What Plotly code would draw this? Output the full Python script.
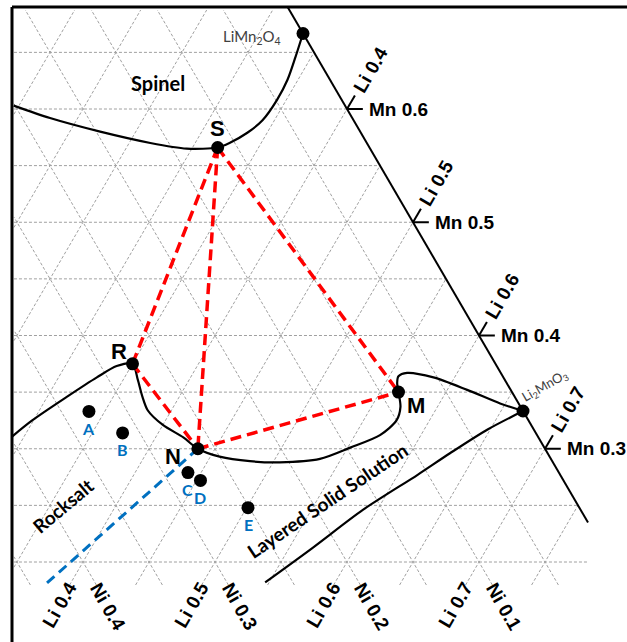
import numpy as np
import plotly.graph_objects as go

# ---------------- data (cation fractions; Ni = 1 - Li - Mn) ----------------
key_names = ["S", "R", "N", "M"]
key_li = [0.319, 0.350, 0.437, 0.564]
key_mn = [0.566, 0.375, 0.300, 0.350]

sample_names = ["A", "B", "C", "D", "E"]
sample_li = [0.338, 0.373, 0.440, 0.453, 0.501]
sample_mn = [0.333, 0.314, 0.279, 0.272, 0.248]

end_names = ["LiMn<sub>2</sub>O<sub>4</sub>", "Li<sub>2</sub>MnO<sub>3</sub>"]
end_li = [1 / 3, 2 / 3]
end_mn = [2 / 3, 1 / 3]

# spinel phase boundary
spinel_li = [0.146, 0.179, 0.223, 0.266, 0.296, 0.319, 0.326, 0.335, 0.341, 0.343, 0.342, 0.338, 0.3333]
spinel_mn = [0.603, 0.592, 0.580, 0.570, 0.565, 0.566, 0.570, 0.579, 0.590, 0.608, 0.626, 0.646, 0.6667]

# rocksalt / layered boundary through R, N, M to Li2MnO3
bound_li = [0.291, 0.299, 0.315, 0.329, 0.339, 0.350, 0.361, 0.372, 0.382, 0.400, 0.421, 0.437,
            0.457, 0.482, 0.505, 0.534, 0.552, 0.569, 0.575, 0.572, 0.564, 0.559, 0.557, 0.562,
            0.584, 0.615, 0.646, 0.6667]
bound_mn = [0.311, 0.325, 0.346, 0.363, 0.373, 0.375, 0.361, 0.346, 0.334, 0.321, 0.310, 0.300,
            0.293, 0.289, 0.288, 0.291, 0.301, 0.312, 0.325, 0.337, 0.350, 0.358, 0.364, 0.367,
            0.363, 0.352, 0.340, 0.3333]

# lower boundary of layered solid solution
layer_li = [0.6667, 0.648, 0.630, 0.615, 0.589, 0.568, 0.547]
layer_mn = [0.3333, 0.317, 0.296, 0.277, 0.246, 0.213, 0.182]

# tie lines (pairs of key points)
tie_pairs = [("S", "R"), ("S", "N"), ("S", "M"), ("R", "N"), ("N", "M")]

# blue dashed line from N
blue_li = [0.437, 0.382]
blue_mn = [0.300, 0.1815]

edge_ticks_li = [0.4, 0.5, 0.6, 0.7]
bottom_ticks_li = [0.4, 0.5, 0.6, 0.7]
bottom_mn = 0.2
grid_step = 0.05

# ---------------- projection ----------------
H = np.sqrt(3) / 2


def xy(li, mn):
    li = np.asarray(li, dtype=float)
    mn = np.asarray(mn, dtype=float)
    return li + mn / 2, mn * H


fig = go.Figure()

# grid
XL, XH = 0.4477, 0.8826
MNL, MNH = 0.1797, 0.6874
gx, gy = [], []


def add_seg(l1, m1, l2, m2):
    x, y = xy([l1, l2], [m1, m2])
    gx.extend([x[0], x[1], None])
    gy.extend([y[0], y[1], None])


vals = np.round(np.arange(0, 1.0001, grid_step), 2)
for v in vals:
    # constant Li
    lo = max(MNL, 2 * (XL - v))
    hi = min(MNH, 2 * (XH - v), 1 - v)
    if hi > lo:
        add_seg(v, lo, v, hi)
    # constant Ni
    if v > 0:
        lo = max(MNL, 2 * (1 - v - XH))
        hi = min(MNH, 2 * (1 - v - XL), 1 - v)
        if hi > lo:
            add_seg(1 - v - lo, lo, 1 - v - hi, hi)
    # constant Mn
    if MNL <= v <= MNH:
        xr = min(XH, 1 - v / 2)
        add_seg(XL - v / 2, v, xr - v / 2, v)

fig.add_trace(go.Scatter(x=gx, y=gy, mode="lines", hoverinfo="skip",
                         line=dict(color="#a0a0a0", width=1, dash="3px,2px")))

# Ni = 0 edge
edge_li = [0.31, 0.7652]
ex, ey = xy(edge_li, [1 - v for v in edge_li])
fig.add_trace(go.Scatter(x=ex, y=ey, mode="lines", line=dict(color="black", width=2), hoverinfo="skip"))

# edge ticks
tx, ty = [], []
for li in edge_ticks_li:
    mn = 1 - li
    a = xy([li, li + 0.012], [mn, mn])
    b = xy([li, li], [mn, mn + 0.012])
    tx += list(a[0]) + [None] + list(b[0]) + [None]
    ty += list(a[1]) + [None] + list(b[1]) + [None]
fig.add_trace(go.Scatter(x=tx, y=ty, mode="lines", line=dict(color="black", width=2), hoverinfo="skip"))

# phase boundaries
for li, mn in [(spinel_li, spinel_mn), (bound_li, bound_mn), (layer_li, layer_mn)]:
    x, y = xy(li, mn)
    fig.add_trace(go.Scatter(x=x, y=y, mode="lines",
                             line=dict(color="black", width=2.2, shape="spline", smoothing=0.8),
                             hoverinfo="skip"))

# tie lines
kp = {n: (l, m) for n, l, m in zip(key_names, key_li, key_mn)}
rx, ry = [], []
for a, b in tie_pairs:
    x, y = xy([kp[a][0], kp[b][0]], [kp[a][1], kp[b][1]])
    rx += list(x) + [None]
    ry += list(y) + [None]
fig.add_trace(go.Scatter(x=rx, y=ry, mode="lines", line=dict(color="#ff0000", width=3.5, dash="11px,6px"),
                         hoverinfo="skip"))

bx, by = xy(blue_li, blue_mn)
fig.add_trace(go.Scatter(x=bx, y=by, mode="lines", line=dict(color="#0070c0", width=3, dash="10px,6px"),
                         hoverinfo="skip"))

# markers
for li, mn in [(key_li, key_mn), (sample_li, sample_mn), (end_li, end_mn)]:
    x, y = xy(li, mn)
    fig.add_trace(go.Scatter(x=x, y=y, mode="markers", marker=dict(color="black", size=13), hoverinfo="skip"))

ann = []
NUMF = dict(family="Liberation Sans, Arial", size=19, color="black")
for li in edge_ticks_li:
    mn = 1 - li
    x, y = xy(li, mn)
    ann.append(dict(x=float(x), y=float(y), text=f"<b>Li {li:.1f}</b>", textangle=-60, xshift=23, yshift=39,
                    showarrow=False, font=NUMF))
    ann.append(dict(x=float(x), y=float(y), text=f"<b>Mn {mn:.1f}</b>", xanchor="left", xshift=20, yshift=0,
                    showarrow=False, font=NUMF))
for li in bottom_ticks_li:
    ni = 1 - li - bottom_mn
    x, y = xy(li, bottom_mn)
    ann.append(dict(x=float(x), y=float(y), text=f"<b>Li {li:.1f}</b>", textangle=-60, xshift=-24, yshift=-43,
                    showarrow=False, font=NUMF))
    ann.append(dict(x=float(x), y=float(y), text=f"<b>Ni {ni:.1f}</b>", textangle=60, xshift=25, yshift=-44,
                    showarrow=False, font=NUMF))

key_off = {"S": (0, 19), "R": (-14, 12), "N": (-25, -8), "M": (18, -13)}
for n, li, mn in zip(key_names, key_li, key_mn):
    x, y = xy(li, mn)
    ann.append(dict(x=float(x), y=float(y), text=f"<b>{n}</b>", xshift=key_off[n][0], yshift=key_off[n][1],
                    showarrow=False, font=dict(family="Liberation Sans, Arial", size=22, color="black")))

for n, li, mn in zip(sample_names, sample_li, sample_mn):
    x, y = xy(li, mn)
    ann.append(dict(x=float(x), y=float(y), text=f"<b>{n}</b>", yshift=-17, showarrow=False,
                    font=dict(family="Lato", size=16, color="#0070c0")))

x, y = xy(end_li[0], end_mn[0])
ann.append(dict(x=float(x), y=float(y), text=end_names[0], xanchor="right", xshift=-20, yshift=-3,
                showarrow=False, font=dict(family="Lato", size=15, color="#404040")))
x, y = xy(end_li[1], end_mn[1])
ann.append(dict(x=float(x), y=float(y), text=end_names[1], textangle=-30, xshift=22, yshift=25,
                showarrow=False, font=dict(family="Lato", size=13, color="#404040")))

for text, li, mn, ang, sz in [("Spinel", 0.245, 0.623, 0, 20), ("Rocksalt", 0.360, 0.250, -40, 19),
                              ("Layered Solid Solution", 0.5575, 0.2547, -34, 19)]:
    x, y = xy(li, mn)
    ann.append(dict(x=float(x), y=float(y), text=f"<b>{text}</b>", textangle=ang, showarrow=False,
                    font=dict(family="Lato", size=sz, color="black")))

shapes = [
    dict(type="line", xref="paper", yref="paper", x0=12 / 627, x1=1.01, y0=1 - 7 / 642, y1=1 - 7 / 642,
         line=dict(color="black", width=3)),
    dict(type="line", xref="paper", yref="paper", x0=12 / 627, x1=12 / 627, y0=-0.01, y1=1 - 7 / 642,
         line=dict(color="black", width=3)),
]

fig.update_layout(
    width=627, height=642, autosize=False,
    margin=dict(l=0, r=0, t=0, b=0),
    paper_bgcolor="white", plot_bgcolor="white",
    showlegend=False,
    xaxis=dict(range=[577 / 1320, 1204 / 1320], visible=False, fixedrange=True),
    yaxis=dict(range=[146.5 / 1307.7, 788.5 / 1307.7], visible=False, fixedrange=True),
    annotations=ann, shapes=shapes,
)

fig.write_html("out.html", config={"displayModeBar": False},
               post_script="document.body.style.margin='0';document.body.style.overflow='hidden';")
